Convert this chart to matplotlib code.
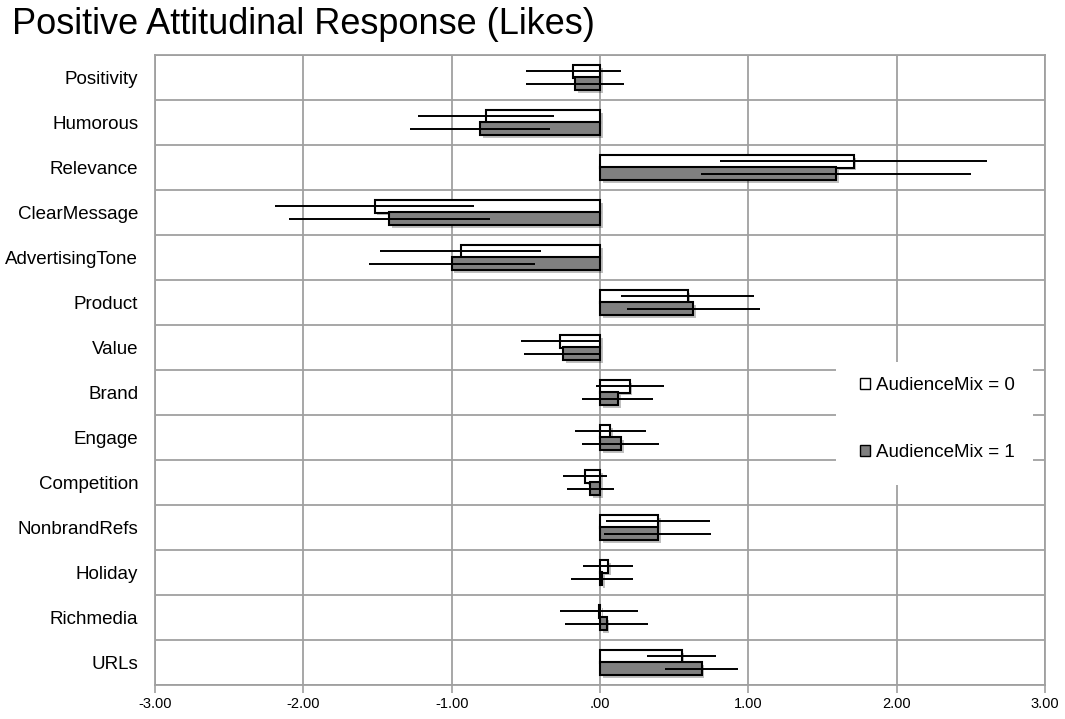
import numpy as np
import matplotlib
matplotlib.use("Agg")
import matplotlib.pyplot as plt
from matplotlib.patches import Patch, Rectangle
import matplotlib.patheffects as pe

# Coefficients and 95% half-widths for each message attribute
categories = ["Positivity", "Humorous", "Relevance", "ClearMessage", "AdvertisingTone",
              "Product", "Value", "Brand", "Engage", "Competition", "NonbrandRefs",
              "Holiday", "Richmedia", "URLs"]
mix0 = [-0.18, -0.77, 1.71, -1.52, -0.94, 0.59, -0.27, 0.20, 0.07, -0.10, 0.39, 0.055, -0.007, 0.55]
mix0_err = [0.32, 0.46, 0.90, 0.67, 0.54, 0.45, 0.26, 0.23, 0.24, 0.15, 0.35, 0.17, 0.265, 0.23]
mix1 = [-0.17, -0.81, 1.59, -1.42, -1.00, 0.63, -0.25, 0.12, 0.14, -0.065, 0.39, 0.012, 0.045, 0.685]
mix1_err = [0.33, 0.47, 0.91, 0.68, 0.56, 0.45, 0.26, 0.24, 0.26, 0.16, 0.36, 0.21, 0.28, 0.245]

xticks = [-3, -2, -1, 0, 1, 2, 3]
xticklabels = ["-3.00", "-2.00", "-1.00", ".00", "1.00", "2.00", "3.00"]
series_labels = ["AudienceMix = 0", "AudienceMix = 1"]

plt.rcParams["font.family"] = ["Liberation Sans", "DejaVu Sans"]

fig = plt.figure(figsize=(10.65, 7.19), dpi=100)
ax = fig.add_axes([155 / 1065, 1 - 685 / 719, 890 / 1065, 630 / 719])

y = np.arange(len(categories))
h = 0.285
off = 0.14
shadow = [pe.SimplePatchShadow(offset=(2, -2), shadow_rgbFace="k", alpha=0.25), pe.Normal()]

b0 = ax.barh(y - off, mix0, height=h, color="white", edgecolor="black", linewidth=1.5, zorder=2)
b1 = ax.barh(y + off, mix1, height=h, color="#808080", edgecolor="black", linewidth=1.5, zorder=2)
for bar in list(b0) + list(b1):
    bar.set_path_effects(shadow)

ax.errorbar(mix0, y - off, xerr=mix0_err, fmt="none", ecolor="black", elinewidth=1.4, capsize=0, zorder=3)
ax.errorbar(mix1, y + off, xerr=mix1_err, fmt="none", ecolor="black", elinewidth=1.4, capsize=0, zorder=3)

ax.set_xlim(-3, 3)
ax.set_ylim(len(categories) - 0.5, -0.5)

grid_c = "#a0a0a0"
ax.set_xticks(xticks)
ax.set_xticklabels(xticklabels, family=["Liberation Sans Narrow", "Liberation Sans", "DejaVu Sans"], fontsize=10.5)
ax.set_yticks(y)
ax.set_yticklabels(categories, fontsize=13.5)
ax.set_yticks(np.arange(-0.5, len(categories), 1), minor=True)
ax.tick_params(axis="y", which="both", length=0, pad=12)
ax.tick_params(axis="x", which="major", length=6, width=1.2, color=grid_c, direction="out", pad=3)
ax.set_axisbelow(True)
ax.grid(axis="x", which="major", color=grid_c, linewidth=1.3)
ax.grid(axis="y", which="minor", color=grid_c, linewidth=1.3)
for s in ax.spines.values():
    s.set_color(grid_c)
    s.set_linewidth(1.3)

# white backing behind the legend
ax.add_patch(Rectangle((0.765, 0.317), 0.2215, 0.196, transform=ax.transAxes,
                       facecolor="white", edgecolor="none", zorder=1.5))
handles = [Patch(facecolor="white", edgecolor="black", linewidth=1.0),
           Patch(facecolor="#808080", edgecolor="black", linewidth=1.0)]
ax.legend(handles, series_labels, loc="upper left", bbox_to_anchor=(0.775, 0.513),
          frameon=False, fontsize=13.5, handlelength=0.55, handleheight=0.55,
          handletextpad=0.3, labelspacing=2.68, borderpad=0.3)

fig.text(12 / 1065, 1 - 34 / 719, "Positive Attitudinal Response (Likes)", fontsize=26,
         ha="left", va="baseline")

fig.savefig("out.png", dpi=100)
